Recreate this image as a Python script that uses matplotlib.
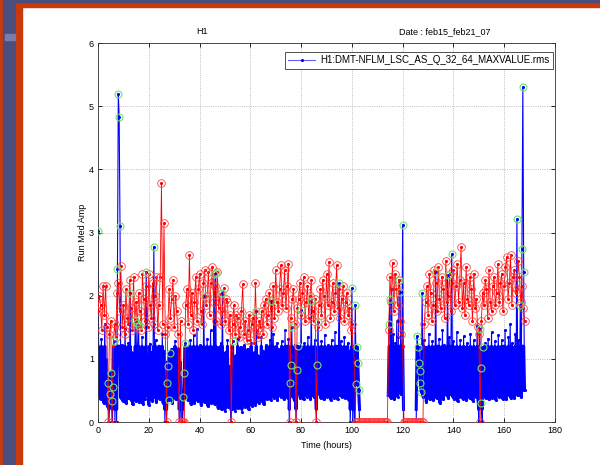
import numpy as np
import matplotlib.pyplot as plt
from matplotlib.patches import Rectangle
from matplotlib.lines import Line2D

plt.rcParams['font.family'] = ['Liberation Sans', 'DejaVu Sans']

nan = np.nan

# blue trace: 3 samples per hour, one list per day
blue_d1 = [3.02, 0.42, 1.18, 0.36, 1.32, 0.45, 1.08, 0.30, 1.55, 0.40, 0.98, 0.26,
           0.62, 0.00, 0.45, 0.78, 0.33, 0.00, 0.55, 1.28, 0.00, 0.95, 0.00, 2.43,
           5.20, 4.83, 3.10, 0.38, 1.22, 0.34, 1.05, 0.42, 1.48, 0.30, 0.92, 0.38,
           1.25, 0.45, 2.05, 0.35, 1.10, 0.28, 0.96, 0.40, 1.62, 0.33, 1.56, 0.44,
           1.52, 0.31, 1.02, 0.46, 1.35, 0.29, 0.88, 0.37, 1.18, 2.38, 0.41, 1.05,
           0.27, 1.24, 0.43, 1.10, 0.34, 0.95, 2.77, 0.39, 1.30, 0.32, 1.08, 0.45]
blue_d2 = [1.20, 0.36, 0.98, 0.42, 1.40, 0.30, 1.12, 0.00, 0.95, 0.00, 0.62, 0.88,
           0.35, 1.10, 0.40, 1.15, 0.30, 0.92, 0.44, 1.28, 0.36, 1.02, 0.41, 1.16,
           0.00, 0.95, 0.00, 0.32, 0.00, 0.40, 0.78, 1.25, 0.38, 1.18, 0.35, 0.96,
           0.42, 1.30, 0.28, 1.05, 0.37, 1.38, 0.30, 1.12, 0.44, 1.48, 0.33, 0.90,
           0.40, 1.22, 0.27, 1.15, 0.36, 2.00, 0.31, 1.06, 0.42, 1.32, 0.25, 0.98,
           0.38, 1.45, 0.30, 1.12, 0.42, 2.34, 0.28, 2.36, 0.35, 1.18, 0.22, 1.02]
blue_d3 = [0.30, 1.25, 0.20, 2.05, 0.35, 0.92, 0.18, 1.10, 0.38, 1.30, 0.24, 0.88,
           0.40, 0.00, 0.20, 1.28, 0.25, 0.95, 0.18, 1.05, 0.30, 1.32, 0.22, 0.85,
           0.35, 1.18, 0.16, 0.98, 0.28, 1.22, 0.24, 0.90, 0.36, 1.15, 0.20, 1.02,
           0.32, 1.25, 0.26, 0.95, 0.38, 1.10, 0.27, 1.75, 0.40, 1.05, 0.30, 0.90,
           0.42, 1.35, 0.33, 1.12, 0.28, 0.98, 0.45, 1.22, 0.36, 1.02, 0.40, 1.30,
           0.35, 1.92, 0.44, 1.40, 0.38, 0.95, 0.46, 1.25, 0.35, 1.15, 0.42, 1.05]
blue_d4 = [0.40, 1.28, 0.45, 1.10, 0.36, 1.45, 0.42, 1.20, 0.38, 1.32, 0.00, 0.62,
           0.90, 1.50, 0.40, 1.05, 0.35, 1.22, 0.00, 0.82, 1.20, 0.45, 1.15, 0.38,
           1.77, 0.42, 1.02, 0.36, 1.25, 0.44, 1.08, 0.40, 1.35, 0.48, 1.18, 0.37,
           1.92, 0.45, 1.05, 0.40, 1.30, 0.46, 0.00, 0.90, 1.59, 0.45, 1.12, 0.38,
           1.28, 0.42, 1.05, 0.36, 1.38, 0.47, 1.15, 0.40, 1.22, 0.44, 1.05, 0.35,
           1.30, 0.48, 1.10, 0.38, 1.42, 0.45, 1.20, 0.36, 1.05, 2.20, 0.42, 1.28]
blue_d5 = [0.40, 1.15, 0.46, 1.35, 0.38, 1.08, 0.44, 1.25, 0.35, 1.12, 0.00, 0.48,
           2.12, 0.00, 0.90, 0.00, 1.85, 0.60, 1.19, 0.93, 0.50, 0.00, nan, nan,
           nan, nan, nan, nan, nan, nan, nan, nan, nan, nan, nan, nan,
           nan, nan, nan, nan, nan, nan, nan, nan, nan, nan, nan, nan,
           nan, nan, nan, nan, nan, nan, nan, 0.42, 1.55, 1.95, 0.38, 2.10,
           0.45, 1.40, 0.36, 1.25, 0.48, 1.60, 0.40, 1.35, 2.25, 2.06, 0.44, 1.20]
blue_d6 = [3.12, 0.00, nan, nan, nan, nan, nan, nan, nan, nan, nan, nan,
           nan, nan, nan, nan, 0.00, 1.36, 1.19, 0.93, 0.80, 0.62, 0.48, 2.04,
           0.40, 1.30, 0.45, 1.18, 0.32, 1.05, 0.42, 1.40, 0.36, 1.12, 0.45, 1.28,
           0.35, 1.05, 0.42, 2.38, 0.38, 1.20, 0.44, 1.32, 0.30, 1.15, 0.40, 1.45,
           0.36, 1.22, 0.47, 1.08, 0.42, 2.32, 0.38, 1.35, 0.45, 1.20, 2.66, 0.40,
           1.28, 0.36, 1.10, 0.46, 1.42, 0.33, 1.05, 0.40, 1.30, 0.44, 1.18, 0.37]
blue_d7 = [1.36, 0.42, 1.02, 0.35, 1.25, 0.46, 1.15, 0.38, 1.40, 0.45, 1.08, 0.34,
           1.30, 0.44, 1.12, 0.40, 1.52, 0.36, 0.00, 1.48, 0.85, 0.30, 0.00, 1.18,
           0.42, 1.25, 0.38, 1.10, 0.46, 1.32, 0.36, 1.18, 0.44, 1.42, 0.38, 1.05,
           0.45, 1.28, 0.35, 1.15, 0.42, 1.38, 0.40, 1.05, 0.46, 1.30, 0.37, 1.20,
           0.44, 1.45, 0.36, 1.12, 0.48, 1.35, 0.42, 1.55, 0.38, 1.25, 0.45, 1.10,
           0.38, 1.40, 0.47, 3.21, 0.42, 1.30, 0.45, 1.85, 0.40, 2.74, 5.30, 2.38,
           0.50]

# red trace: 2 samples per hour
red_d1 = [1.75, 2.00, 1.85, 1.45, 2.15, 1.70, 2.15, 1.50,
          0.00, 1.40, 1.60, 0.00, 1.20, 1.55, 1.35, 2.05,
          2.20, 1.75, 2.47, 1.50, 1.85, 1.40, 2.10, 1.65,
          1.55, 2.25, 1.80, 1.45, 2.30, 1.60, 1.90, 1.50,
          2.05, 1.75, 1.45, 2.35, 1.95, 1.60, 2.15, 1.50,
          2.35, 1.85, 1.65, 2.20, 1.55, 2.00, 2.30, 1.45]
red_d2 = [1.85, 2.30, 3.78, 1.55, 3.15, 1.40, 0.00, 1.50,
          2.10, 1.65, 1.95, 2.25, 1.50, 2.00, 1.75, 1.40,
          0.00, 1.60, 0.00, 0.00, 0.00, 1.85, 2.10, 1.55,
          2.64, 1.70, 2.05, 1.45, 1.90, 2.30, 1.60, 2.10,
          2.35, 1.75, 1.55, 2.20, 2.40, 1.85, 2.00, 2.38,
          1.70, 2.20, 2.45, 1.90, 2.15, 1.60, 2.38, 1.80]
red_d3 = [2.02, 1.55, 1.75, 2.12, 1.60, 1.95, 1.90, 1.45,
          1.70, 0.00, 1.55, 1.85, 1.40, 1.70, 1.65, 1.35,
          1.50, 1.75, 2.18, 1.40, 1.60, 1.30, 1.45, 1.70,
          1.30, 1.55, 1.65, 1.25, 2.20, 1.45, 1.35, 1.60,
          1.50, 1.75, 1.40, 1.85, 1.95, 1.55, 1.70, 2.05,
          1.80, 1.50, 2.15, 1.65, 2.40, 1.90, 1.75, 2.10]
red_d4 = [2.48, 1.85, 2.05, 2.40, 1.80, 2.15, 2.50, 0.00,
          1.65, 1.95, 2.10, 1.55, 0.00, 1.80, 1.95, 2.20,
          1.70, 2.05, 2.30, 1.60, 1.90, 2.15, 1.65, 2.00,
          2.25, 1.75, 1.60, 1.95, 0.00, 1.50, 1.85, 2.10,
          1.70, 2.25, 2.00, 1.55, 2.35, 1.85, 2.53, 1.65,
          1.90, 2.20, 1.75, 2.05, 2.48, 1.80, 2.10, 1.65]
red_d5 = [1.95, 2.15, 1.60, 1.90, 2.05, 1.70, 1.80, 1.45,
          1.55, 1.20, 0.95, 0.00, 0.00, 0.00, 0.00, 0.00,
          0.00, 0.00, 0.00, 0.00, 0.00, 0.00, 0.00, 0.00,
          0.00, 0.00, 0.00, 0.00, 0.00, 0.00, 0.00, 0.00,
          0.00, 0.00, 0.00, 0.00, 0.00, 1.45, 2.30, 1.90,
          2.52, 1.75, 2.35, 2.10, 1.85, 2.25, 1.60, 1.40]
red_d6 = [1.20, 0.00, 0.00, 0.00, 0.00, 0.00, 0.00, 0.00,
          0.00, 0.00, 0.00, 0.00, 0.00, 0.00, 0.00, 0.00,
          0.00, 1.55, 1.90, 2.15, 1.70, 2.35, 2.05, 1.60,
          1.85, 2.40, 2.20, 1.75, 2.45, 1.95, 1.80, 2.30,
          2.10, 1.65, 2.55, 1.90, 2.00, 2.35, 1.75, 2.20,
          2.40, 1.85, 2.15, 2.50, 1.90, 2.25, 2.77, 1.80]
red_d7 = [2.20, 1.70, 2.45, 1.95, 1.85, 2.30, 2.10, 1.60,
          2.35, 1.80, 1.95, 1.50, 1.40, 0.00, 1.60, 2.05,
          1.85, 2.25, 2.10, 1.65, 2.40, 1.90, 1.75, 2.15,
          2.30, 1.85, 2.05, 2.50, 1.90, 2.20, 2.35, 1.75,
          2.15, 2.45, 2.62, 1.95, 2.20, 2.64, 1.85, 2.30,
          2.40, 2.05, 2.10, 2.55, 2.30, 1.90, 2.15, 1.80,
          1.60]

# times (hours) of blue samples flagged with green circles
green_t = [0.0, 4.0, 4.67, 5.0, 5.33, 6.0, 6.33, 7.67, 8.0, 8.33, 8.67,
           12.67, 14.67, 15.33, 16.0, 19.0, 22.0,
           27.33, 27.67, 28.0, 28.33, 33.67, 34.0, 34.33, 41.67, 45.67, 46.33,
           49.0, 53.0, 62.33, 68.33,
           75.67, 76.0, 76.33, 78.33, 78.67, 80.0, 84.0, 86.33, 86.67, 95.0,
           100.0, 101.33, 101.67, 102.0, 102.33, 102.67, 114.67, 115.0, 118.67, 119.0,
           120.0, 125.67, 126.0, 126.33, 126.67, 127.0, 127.33, 127.67,
           133.0, 137.67, 139.33,
           150.33, 150.67, 151.0, 151.67, 165.0, 166.33, 167.0, 167.33, 167.67]

blue = np.array(blue_d1 + blue_d2 + blue_d3 + blue_d4 + blue_d5 + blue_d6 + blue_d7)
t_blue = np.arange(len(blue)) / 3.0
red = np.array(red_d1 + red_d2 + red_d3 + red_d4 + red_d5 + red_d6 + red_d7)
t_red = np.arange(len(red)) / 2.0

gi = np.clip(np.round(np.array(green_t) * 3).astype(int), 0, len(blue) - 1)
rmask = (red >= 1.3) | (red == 0)

fig = plt.figure(figsize=(6, 4.65), dpi=100)

# slide frame
W, H = 600.0, 465.0
fig.patches.append(Rectangle((0, 0), 3 / W, 1, transform=fig.transFigure, color='#c9390b', zorder=0))
fig.patches.append(Rectangle((3 / W, 0), 13 / W, 1, transform=fig.transFigure, color='#4b4d7c', zorder=0))
fig.patches.append(Rectangle((16 / W, 0), 6 / W, 1, transform=fig.transFigure, color='#c9390b', zorder=0))
fig.patches.append(Rectangle((16 / W, 1 - 7 / H), 1, 5 / H, transform=fig.transFigure, color='#c9390b', zorder=0))
fig.patches.append(Rectangle((16 / W, 1 - 2 / H), 1, 2 / H, transform=fig.transFigure, color='#4b4d7c', zorder=0))
fig.patches.append(Rectangle((5 / W, 1 - 40 / H), 10 / W, 6 / H, transform=fig.transFigure, color='#7c7ca8', zorder=0))

ax = fig.add_axes([98 / W, 1 - 422 / H, 457 / W, 379 / H])

# thin trace for every sample, thick pass for the dense core of the band
ax.plot(t_blue, blue, '-', color='#0000ff', lw=0.8, marker='.', ms=2.5, zorder=2)
ax.plot(t_blue, np.clip(blue, 0.2, 1.2), '-', color='#0000ff', lw=2.2, zorder=2)
ax.plot(t_red, red, '-', color='#ff0000', lw=0.6, marker='.', ms=2.5, zorder=3)
ax.plot(t_red[rmask], red[rmask], 'o', mfc='none', mec='#ff3a3a', mew=0.55, ms=5.5, zorder=4)
ax.plot(t_blue[gi], blue[gi], 'o', mfc='none', mec='#70e070', mew=0.8, ms=5, zorder=5)

ax.set_xlim(0, 180)
ax.set_ylim(0, 6)
ax.set_xticks(np.arange(0, 181, 20))
ax.set_yticks(np.arange(0, 7, 1))
ax.tick_params(direction='in', top=True, right=True, length=3, width=0.6, labelsize=6.5, pad=3)
ax.grid(True, linestyle=':', color='#a8a8a8', linewidth=0.6)
ax.set_axisbelow(True)
for s in ax.spines.values():
    s.set_linewidth(0.6)
    s.set_color('#333333')

ax.set_xlabel('Time (hours)', fontsize=6.5, labelpad=4)
ax.set_ylabel('Run Med Amp', fontsize=6.5, labelpad=1)
ax.text(0.228, 1 + 11 / 379, 'H1', transform=ax.transAxes, ha='center', va='center', fontsize=6.5)
ax.text(0.759, 1 + 11 / 379, 'Date : feb15_feb21_07', transform=ax.transAxes, ha='center', va='center', fontsize=6.5)

handle = Line2D([], [], color='#6060ff', lw=0.8, marker='.', ms=2.5, mfc='#0000ff', mec='#0000ff')
leg = ax.legend([handle], ['H1:DMT-NFLM_LSC_AS_Q_32_64_MAXVALUE.rms'], loc='upper right',
                bbox_to_anchor=(1 - 2 / 457, 1 - 9 / 379), fontsize=7, fancybox=False,
                framealpha=1, edgecolor='#333333', borderpad=0.35, handlelength=2.8,
                handletextpad=0.5, borderaxespad=0)
leg.get_frame().set_linewidth(0.6)

fig.savefig('out.png', dpi=100)
